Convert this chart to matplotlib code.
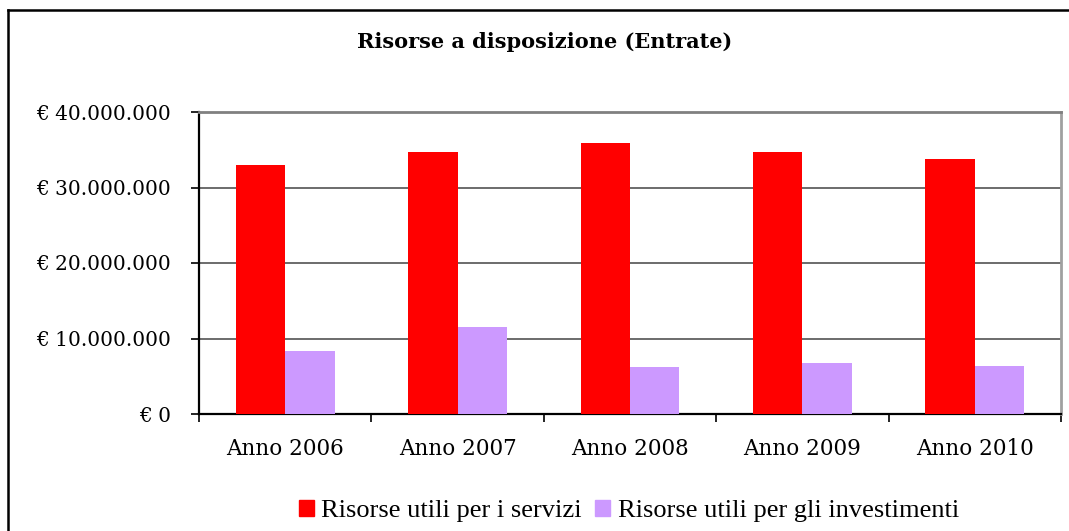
#!/usr/bin/env python3

import numpy as np
import matplotlib.pyplot as plt
from matplotlib.patches import Patch
from matplotlib.lines import Line2D
from matplotlib.ticker import FuncFormatter

anni = ["Anno 2006", "Anno 2007", "Anno 2008", "Anno 2009", "Anno 2010"]
servizi = [33000000, 34700000, 35900000, 34700000, 33800000]
investimenti = [8300000, 11500000, 6200000, 6750000, 6400000]

rosso = "#ff0000"
lilla = "#cc99ff"

W, H = 1069, 531
fig = plt.figure(figsize=(W / 100, H / 100), dpi=100)
ax = fig.add_axes([199 / W, 1 - 414 / H, (1061 - 199) / W, (414 - 112) / H])

x = np.arange(len(anni))
bw = 0.287
ax.bar(x - bw / 2, servizi, bw, color=rosso, zorder=3)
ax.bar(x + bw / 2, investimenti, bw, color=lilla, zorder=3)

ax.set_xlim(-0.5, len(anni) - 0.5)
ax.set_ylim(0, 40000000)
ax.set_yticks(np.arange(0, 40000001, 10000000))
ax.yaxis.set_major_formatter(FuncFormatter(lambda v, p: "€ " + f"{int(v):,}".replace(",", ".")))
ax.yaxis.grid(True, color="#606060", linewidth=1.3, zorder=0)

# ticks between categories, labels centred
ax.set_xticks(np.arange(-0.5, len(anni), 1))
ax.set_xticklabels([])
ax.set_xticks(x, minor=True)
ax.set_xticklabels(anni, minor=True, family="DejaVu Serif", fontsize=15.5)
ax.tick_params(axis="x", which="minor", length=0, pad=17)
ax.tick_params(axis="x", which="major", length=6, width=1.2, direction="out")
ax.tick_params(axis="y", length=6, width=1.2, direction="out", pad=14)
for t in ax.get_yticklabels():
    t.set_family("DejaVu Serif")
    t.set_fontsize(14.5)

ax.spines["left"].set_color("black")
ax.spines["bottom"].set_color("black")
ax.spines["left"].set_linewidth(1.6)
ax.spines["bottom"].set_linewidth(1.6)
ax.spines["top"].set_color("#808080")
ax.spines["right"].set_color("#a0a0a0")
ax.spines["top"].set_linewidth(2)
ax.spines["right"].set_linewidth(2)

fig.text(545 / W, 1 - 42 / H, "Risorse a disposizione (Entrate)", ha="center", va="center",
         family="DejaVu Serif", fontweight="bold", fontsize=15)

# outer frame (left and top edges visible)
fig.add_artist(Line2D([8 / W, 8 / W], [0, 1 - 10 / H], transform=fig.transFigure, color="black", linewidth=1.8))
fig.add_artist(Line2D([8 / W, 1], [1 - 10 / H, 1 - 10 / H], transform=fig.transFigure, color="black", linewidth=1.8))

handles = [Patch(color=rosso), Patch(color=lilla)]
fig.legend(handles, ["Risorse utili per i servizi", "Risorse utili per gli investimenti"],
           loc="center", bbox_to_anchor=(629 / W, 1 - 511 / H), ncol=2, frameon=False,
           prop={"family": "Liberation Serif", "size": 19}, handlelength=0.55, handleheight=0.55,
           handletextpad=0.3, columnspacing=0.5, borderpad=0)

plt.savefig("out.png", dpi=100)
